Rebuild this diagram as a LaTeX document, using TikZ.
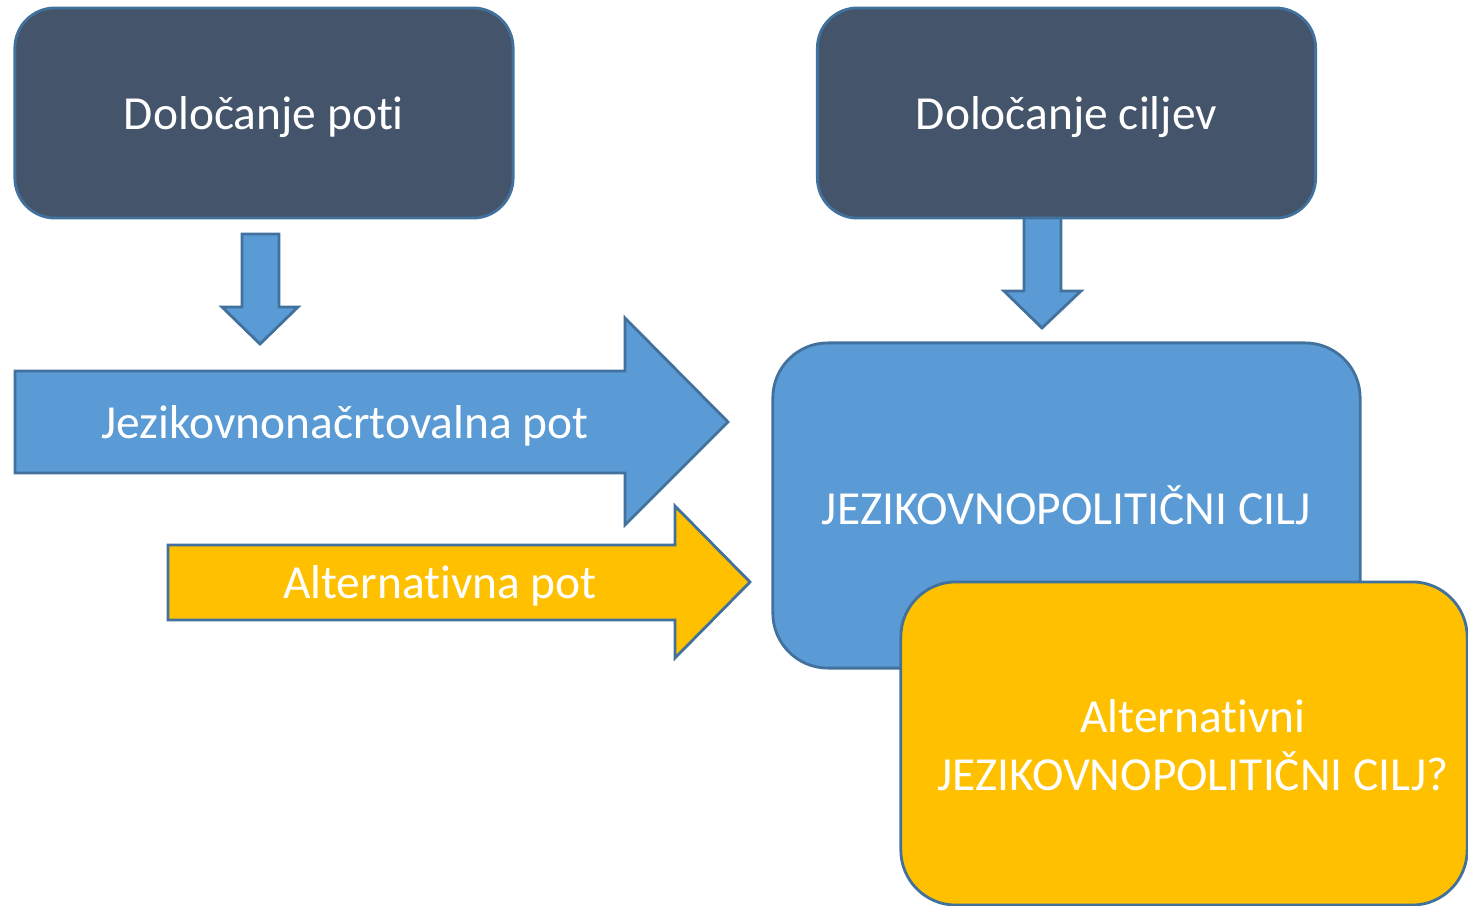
\documentclass[tikz,border=0pt]{standalone}
\usepackage{fontspec}
\setmainfont{Carlito}[Ligatures=NoCommon]
\usetikzlibrary{positioning}
\definecolor{darkslate}{HTML}{44546A}
\definecolor{lightblue}{HTML}{5B9BD5}
\definecolor{amber}{HTML}{FFC000}
\definecolor{edgeblue}{HTML}{41719C}

\begin{document}
\begin{tikzpicture}
    [x=0.01cm, y=-0.01cm,
    topbox/.style={rounded corners=0.4cm, fill=darkslate, draw=edgeblue, line width=0.8pt, minimum width=4.98cm, minimum height=2.10cm, text=white, text depth=0pt, font=\fontsize{13.5}{16.5}\selectfont},
    goalbox/.style={rounded corners=0.55cm, fill=lightblue, draw=edgeblue, line width=0.8pt, minimum width=5.87cm, minimum height=3.25cm, text=white, font=\fontsize{13.5}{16.5}\selectfont},
    altbox/.style={rounded corners=0.55cm, fill=amber, draw=edgeblue, line width=0.8pt, minimum width=5.66cm, minimum height=3.23cm},
    blockarrow/.style={draw=edgeblue, line width=0.8pt, line join=miter},
    arrowtext/.style={text=white, text depth=0pt, font=\fontsize{13.5}{16.5}\selectfont}]
     \useasboundingbox (0,0) rectangle (1468,906);
     %\draw[step=100,gray,very thin] (0,0) grid (1468,906);
     \node[topbox] (pot)   at (264, 113)    {Določanje poti};
     \node[topbox] (cilj)  at (1066.5, 113) {Določanje ciljev};
     % down arrows
     \draw[blockarrow, fill=lightblue] (242,234) -- (279,234) -- (279,307) -- (298,307) -- (260,344)
          -- (222,307) -- (242,307) -- cycle;
     \draw[blockarrow, fill=lightblue] (1024,218) -- (1061,218) -- (1061,291) -- (1081,291) -- (1042,328)
          -- (1004,291) -- (1024,291) -- cycle;
     % right arrows
     \draw[blockarrow, fill=lightblue] (15,371) -- (625,371) -- (625,318) -- (728,422) -- (625,525)
          -- (625,473) -- (15,473) -- cycle;
     \node[arrowtext] (jnpot) at (345, 422) {Jezikovnonačrtovalna pot};
     \draw[blockarrow, fill=amber] (168,545) -- (675,545) -- (675,506) -- (750,582) -- (675,658)
          -- (675,620) -- (168,620) -- cycle;
     \node[arrowtext] (altpot) at (440, 582) {Alternativna pot};
     % goals
     \node[goalbox] (jpcilj) at (1066.5, 505.5) {JEZIKOVNOPOLITIČNI CILJ};
     \node[altbox]  (altcilj) at (1184, 743.5) {};
     \node[arrowtext, align=center] (alttext) at (1193, 745) {Alternativni\\JEZIKOVNOPOLITIČNI CILJ?};
\end{tikzpicture}
\end{document}
